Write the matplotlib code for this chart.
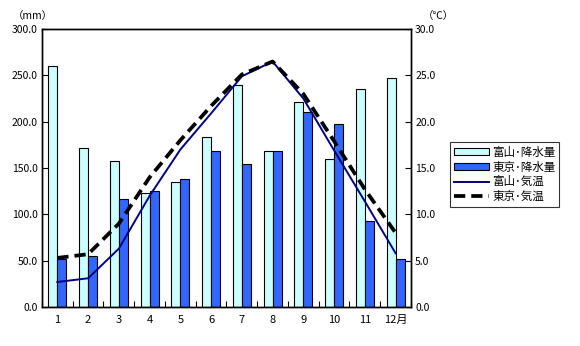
# 富山・東京の月別降水量(棒)と気温(線)
import numpy as np
import matplotlib.pyplot as plt
from matplotlib.patches import Patch
from matplotlib.lines import Line2D

plt.rcParams['font.family'] = ['Noto Sans CJK JP', 'DejaVu Sans']

months = ['1', '2', '3', '4', '5', '6', '7', '8', '9', '10', '11', '12月']
toyama_rain = [260, 172, 158, 123, 135, 183, 240, 168, 221, 160, 235, 247]
tokyo_rain = [52, 55, 117, 125, 138, 168, 154, 168, 210, 198, 93, 52]
toyama_temp = [2.7, 3.1, 6.3, 12.0, 17.0, 20.9, 24.9, 26.5, 22.5, 16.9, 11.4, 5.8]
tokyo_temp = [5.3, 5.7, 9.0, 14.0, 18.0, 21.7, 25.1, 26.5, 23.0, 17.9, 12.7, 8.0]

x = np.arange(len(months))
w = 0.29

fig = plt.figure(figsize=(5.8, 3.46), dpi=100)
ax = fig.add_axes([0.0724, 0.1127, 0.6362, 0.8033])
ax2 = ax.twinx()

ax.bar(x - w / 2, toyama_rain, w, color='#ccffff', edgecolor='black', linewidth=0.8)
ax.bar(x + w / 2, tokyo_rain, w, color='#3366ff', edgecolor='black', linewidth=0.8)

ax2.plot(x, toyama_temp, color='#000080', linewidth=1.4)
ax2.plot(x, tokyo_temp, color='black', linewidth=2.7, linestyle=(0, (3, 1.6)))

ax.set_xlim(-0.5, 11.5)
ax.set_ylim(0, 300)
ax2.set_ylim(0, 30)
ax.set_yticks(np.arange(0, 301, 50))
ax.set_yticklabels([f'{v:.1f}' for v in np.arange(0, 301, 50)])
ax2.set_yticks(np.arange(0, 31, 5))
ax2.set_yticklabels([f'{v:.1f}' for v in np.arange(0, 31, 5)])

# 目盛は区切り位置、ラベルは中央
ax.set_xticks(np.arange(-0.5, 12, 1))
ax.set_xticklabels([])
ax.set_xticks(x, minor=True)
ax.set_xticklabels(months, minor=True)
ax.tick_params(axis='x', which='minor', length=0, pad=6, labelsize=8)
ax.tick_params(axis='x', which='major', direction='in', length=4, width=0.8)
ax.tick_params(axis='y', direction='in', length=4, width=0.8, labelsize=7.5, pad=3)
ax2.tick_params(axis='y', direction='in', length=4, width=0.8, labelsize=7.5, pad=3)

for a in (ax, ax2):
    for s in a.spines.values():
        s.set_linewidth(1.0)

fig.text(0.057, 0.955, '（mm）', fontsize=7.5, ha='center', va='center')
fig.text(0.755, 0.955, '（℃）', fontsize=7.5, ha='center', va='center')

handles = [
    Patch(facecolor='#ccffff', edgecolor='black', linewidth=0.8, label='富山･降水量'),
    Patch(facecolor='#3366ff', edgecolor='black', linewidth=0.8, label='東京･降水量'),
    Line2D([], [], color='#000080', linewidth=1.4, label='富山･気温'),
    Line2D([], [], color='black', linewidth=2.7, linestyle=(0, (3, 1.6)), label='東京･気温'),
]
leg = fig.legend(handles=handles, loc='upper left', bbox_to_anchor=(0.776, 0.59),
                 fontsize=8.3, frameon=True, fancybox=False, handlelength=3.0,
                 handleheight=0.55, handletextpad=0.3, labelspacing=0.15,
                 borderpad=0.35, borderaxespad=0)
leg.get_frame().set_edgecolor('black')
leg.get_frame().set_linewidth(0.8)

fig.savefig('out.png', dpi=100)
